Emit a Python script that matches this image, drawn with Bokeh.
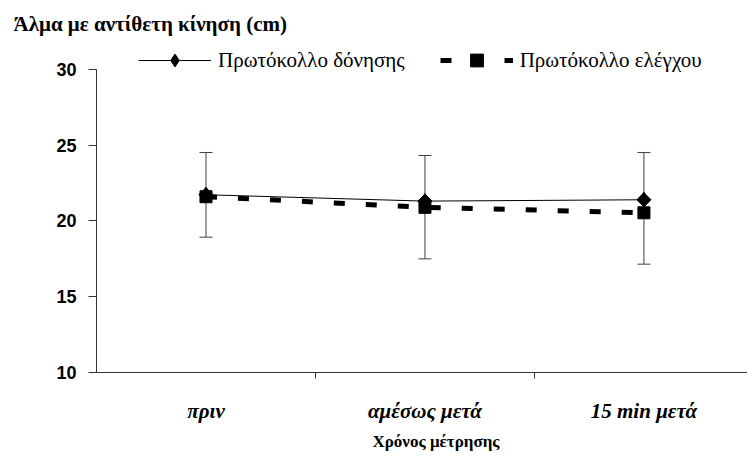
import math
from bokeh.plotting import figure
from bokeh.models import (Range1d, FixedTicker, Whisker, ColumnDataSource,
                          Legend, LegendItem, TeeHead, Title)
from bokeh.embed import file_html
from bokeh.resources import INLINE

# ---- data ----
categories = ["πριν", "αμέσως μετά", "15 min μετά"]
vibration = [21.73, 21.31, 21.40]      # Πρωτόκολλο δόνησης
control = [21.60, 20.90, 20.54]        # Πρωτόκολλο ελέγχου
err_upper = [24.52, 24.32, 24.52]
err_lower = [18.93, 17.50, 17.15]
y_ticks = [10, 15, 20, 25, 30]

title_text = "Άλμα με αντίθετη κίνηση (cm)"
x_label = "Χρόνος μέτρησης"
series_names = ["Πρωτόκολλο δόνησης", "Πρωτόκολλο ελέγχου"]

n = len(categories)
xs = [i + 0.5 for i in range(n)]
bounds = [i + 1 for i in range(n - 1)]

p = figure(width=747, height=459, output_backend="svg", toolbar_location=None,
           x_range=Range1d(0, 2.973), y_range=Range1d(10, 31.58),
           min_border_left=96, min_border_right=0, min_border_top=45,
           min_border_bottom=87)
p.outline_line_color = None
p.grid.visible = False
p.background_fill_color = "white"
p.border_fill_color = "white"

# title
p.title.text = title_text
p.title.text_font = "Liberation Serif"
p.title.text_font_style = "bold"
p.title.text_font_size = "21px"
p.title.align = "left"
p.title.vertical_align = "top"
p.title.offset = -83
p.title.standoff = 16
p.title.text_color = "black"

# error bars
src = ColumnDataSource(dict(x=xs, upper=err_upper, lower=err_lower))
w = Whisker(base="x", upper="upper", lower="lower", source=src,
            dimension="height", line_color="#404040", line_width=1,
            level="underlay",
            upper_head=TeeHead(size=13, line_color="#404040", line_width=1),
            lower_head=TeeHead(size=13, line_color="#404040", line_width=1))
p.add_layout(w)

# series
l1 = p.line(xs, vibration, line_color="black", line_width=1)
s1 = p.scatter(xs, vibration, marker="diamond", size=15, color="black")
s1b = p.scatter(xs, vibration, marker="square", size=10, angle=math.pi / 4,
                color="black")
l2 = p.line(xs, control, line_color="black", line_width=5, line_dash="11 21")
s2 = p.scatter(xs, control, marker="square", size=12, color="black")

# axes
xa = p.xaxis[0]
xa.ticker = FixedTicker(ticks=xs, minor_ticks=bounds)
xa.major_label_overrides = {x: c for x, c in zip(xs, categories)}
xa.major_tick_out = 0
xa.major_tick_in = 0
xa.minor_tick_out = 6
xa.minor_tick_in = 0
xa.minor_tick_line_color = "#333333"
xa.axis_line_color = "#333333"
xa.major_label_text_font = "Liberation Serif"
xa.major_label_text_font_style = "bold italic"
xa.major_label_text_font_size = "21px"
xa.major_label_text_color = "black"
xa.major_label_standoff = 20

# x-axis title (offset to the right as in the original)
xt = Title(text=x_label, text_font="Liberation Serif", text_font_style="bold",
           text_font_size="17px", text_color="black", align="left",
           offset=276, standoff=8)
p.add_layout(xt, "below")

ya = p.yaxis[0]
ya.ticker = FixedTicker(ticks=y_ticks)
ya.bounds = (y_ticks[0], y_ticks[-1])
ya.major_tick_out = 8
ya.major_tick_in = 0
ya.minor_tick_out = 0
ya.minor_tick_in = 0
ya.major_tick_line_color = "#333333"
ya.axis_line_color = "#333333"
ya.major_label_text_font = "Liberation Sans"
ya.major_label_text_font_style = "bold"
ya.major_label_text_font_size = "18px"
ya.major_label_text_color = "black"
ya.major_label_standoff = 12

legend = Legend(items=[LegendItem(label=series_names[0], renderers=[l1, s1]),
                       LegendItem(label=series_names[1], renderers=[l2, s2])],
                orientation="horizontal", glyph_width=73, glyph_height=32,
                label_standoff=7, spacing=35, padding=0, margin=0,
                border_line_color=None, background_fill_alpha=0,
                label_text_font="Liberation Serif", label_text_font_size="21px",
                label_text_color="black", location=(42, 296))
p.add_layout(legend)

open("out.html", "w").write(file_html(p, INLINE))
